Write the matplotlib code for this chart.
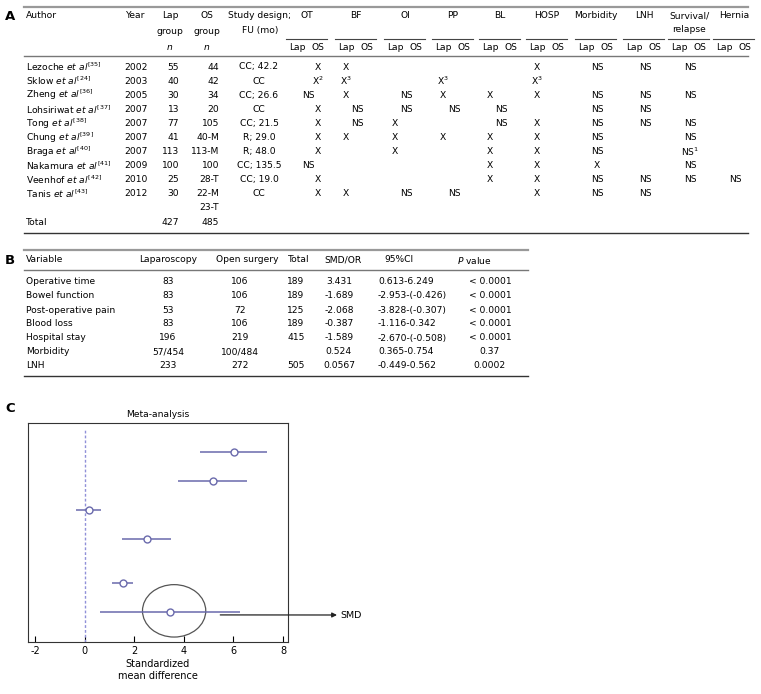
import matplotlib
matplotlib.use('Agg')
import matplotlib.pyplot as plt
from matplotlib.lines import Line2D
from matplotlib.patches import Ellipse

plt.rcParams['font.family'] = 'DejaVu Sans'
plt.rcParams['mathtext.fontset'] = 'dejavusans'

W, H = 761, 694
FS = 6.6

# ---- panel A data
authors = ['Lezoche', 'Sklow', 'Zheng', 'Lohsiriwat', 'Tong', 'Chung', 'Braga',
           'Nakamura', 'Veenhof', 'Tanis']
refs = ['35', '24', '36', '37', '38', '39', '40', '41', '42', '43']
years = ['2002', '2003', '2005', '2007', '2007', '2007', '2007', '2009', '2010', '2012']
lap_n = ['55', '40', '30', '13', '77', '41', '113', '100', '25', '30']
os_n = ['44', '42', '34', '20', '105', '40-M', '113-M', '100', '28-T', '22-M']
design = ['CC; 42.2', 'CC', 'CC; 26.6', 'CC', 'CC; 21.5', 'R; 29.0', 'R; 48.0',
          'CC; 135.5', 'CC; 19.0', 'CC']
outcomes = ['OT', 'BF', 'OI', 'PP', 'BL', 'HOSP', 'Morbidity', 'LNH', 'Survival/\nrelapse', 'Hernia']
# position:text  (L = under Lap, O = under OS, C = centred)
cells = [
    ['O:X', 'L:X', '', '', '', 'L:X', 'C:NS', 'C:NS', 'C:NS', ''],
    ['O:X$^2$', 'L:X$^3$', '', 'L:X$^3$', '', 'L:X$^3$', '', '', '', ''],
    ['C:NS', 'L:X', 'C:NS', 'L:X', 'L:X', 'L:X', 'C:NS', 'C:NS', 'C:NS', ''],
    ['O:X', 'C:NS', 'C:NS', 'C:NS', 'C:NS', '', 'C:NS', 'C:NS', '', ''],
    ['O:X', 'C:NS', 'L:X', '', 'C:NS', 'L:X', 'C:NS', 'C:NS', 'C:NS', ''],
    ['O:X', 'L:X', 'L:X', 'L:X', 'L:X', 'L:X', 'C:NS', '', 'C:NS', ''],
    ['O:X', '', 'L:X', '', 'L:X', 'L:X', 'C:NS', '', 'C:NS$^1$', ''],
    ['C:NS', '', '', '', 'L:X', 'L:X', 'C:X', '', 'C:NS', ''],
    ['O:X', '', '', '', 'L:X', 'L:X', 'C:NS', 'C:NS', 'C:NS', 'C:NS'],
    ['O:X', 'L:X', 'C:NS', 'C:NS', '', 'L:X', 'C:NS', 'C:NS', '', ''],
]
os_extra = '23-T'
total_lap, total_os = '427', '485'

# ---- panel B data
variables = ['Operative time', 'Bowel function', 'Post-operative pain', 'Blood loss',
             'Hospital stay', 'Morbidity', 'LNH']
lap_b = ['83', '83', '53', '83', '196', '57/454', '233']
open_b = ['106', '106', '72', '106', '219', '100/484', '272']
total_b = ['189', '189', '125', '189', '415', '', '505']
smd_b = ['3.431', '-1.689', '-2.068', '-0.387', '-1.589', '0.524', '0.0567']
ci_b = ['0.613-6.249', '-2.953-(-0.426)', '-3.828-(-0.307)', '-1.116-0.342',
        '-2.670-(-0.508)', '0.365-0.754', '-0.449-0.562']
p_b = ['< 0.0001', '< 0.0001', '< 0.0001', '< 0.0001', '< 0.0001', '0.37', '0.0002']

# ---- panel C data
smd = [6.01, 5.16, 0.18, 2.50, 1.53, 3.431]
ci_lo = [4.66, 3.76, -0.34, 1.51, 1.12, 0.613]
ci_hi = [7.36, 6.55, 0.68, 3.49, 1.96, 6.249]
ypos = [1, 2, 3, 4, 5.5, 6.5]
xticks = [-2, 0, 2, 4, 6, 8]

fig = plt.figure(figsize=(W / 100, H / 100), dpi=100)


def T(x, y, s, ha='left', **kw):
    kw.setdefault('fontsize', FS)
    fig.text(x / W, 1 - y / H, s, ha=ha, va='center', **kw)


def hline(x0, x1, y, color='#444444', lw=0.9):
    fig.add_artist(Line2D([x0 / W, x1 / W], [1 - y / H, 1 - y / H],
                          transform=fig.transFigure, color=color, lw=lw))


# ================= A
T(5, 16, 'A', fontsize=9.5, fontweight='bold')
hline(24, 748, 7, color='#999999', lw=1.6)
T(26, 16, 'Author')
T(136, 16, 'Year', ha='center')
T(170, 16, 'Lap', ha='center')
T(170, 31, 'group', ha='center')
T(170, 47, '$n$', ha='center')
T(207, 16, 'OS', ha='center')
T(207, 31, 'group', ha='center')
T(207, 47, '$n$', ha='center')
T(260, 16, 'Study design;', ha='center')
T(260, 31, 'FU (mo)', ha='center')

gx = [307, 356, 405, 453, 500, 547, 596, 644, 689, 734]
for g, name in zip(gx, outcomes):
    if '\n' in name:
        a, b = name.split('\n')
        T(g, 16, a, ha='center')
        T(g, 29, b, ha='center')
    else:
        T(g, 16, name, ha='center')
    hline(g - 21, g + 20, 39, lw=0.8)
    T(g - 10, 47, 'Lap', ha='center')
    T(g + 11, 47, 'OS', ha='center')
hline(24, 748, 56, color='#777777', lw=1.0)

y0, dy = 67, 14.1
for i in range(len(authors)):
    y = y0 + i * dy
    T(26, y, authors[i] + r' $\mathit{et\ al}^{[' + refs[i] + ']}$')
    T(136, y, years[i], ha='center')
    T(179, y, lap_n[i], ha='right')
    T(219, y, os_n[i], ha='right')
    T(259, y, design[i], ha='center')
    for g, c in zip(gx, cells[i]):
        if not c:
            continue
        pos, txt = c.split(':')
        x = {'L': g - 10, 'O': g + 11, 'C': g + 1}[pos]
        T(x, y, txt, ha='center')
y = y0 + len(authors) * dy
T(219, y, os_extra, ha='right')
y += dy
T(26, y, 'Total')
T(179, y, total_lap, ha='right')
T(219, y, total_os, ha='right')
hline(24, 748, y + 11, color='#333333', lw=1.0)

# ================= B
yb = 260
T(5, yb, 'B', fontsize=9.5, fontweight='bold')
hline(24, 528, yb - 10, color='#999999', lw=1.6)
cols = [26, 168, 240, 296, 339, 378, 490]
has = ['left', 'center', 'center', 'center', 'center', 'left', 'center']
heads = ['Variable', 'Laparoscopy', 'Open surgery', 'Total', 'SMD/OR', '95%CI', '$P$ value']
hx = [26, 168, 247, 299, 343, 399, 474]
for x, h in zip(hx, heads):
    T(x, yb, h, ha='left' if h == 'Variable' else 'center')
hline(24, 528, yb + 10, color='#777777', lw=1.0)
for i in range(len(variables)):
    y = yb + 22 + i * 14
    row = [variables[i], lap_b[i], open_b[i], total_b[i], smd_b[i], ci_b[i], p_b[i]]
    for x, s, a in zip(cols, row, has):
        T(x, y, s, ha=a)
hline(24, 528, yb + 22 + 6 * 14 + 10, color='#333333', lw=1.0)

# ================= C
T(5, 409, 'C', fontsize=9.5, fontweight='bold')
ax = fig.add_axes([28 / W, 1 - 642 / H, (288 - 28) / W, (642 - 423) / H])
ax.set_xlim(-2.28, 8.2)
ax.set_ylim(7.52, 0)
ax.axvline(0, color='#9090d8', lw=1.0, ls=(0, (2, 1.5)), ymin=0, ymax=0.97)
line_c = '#6a6aac'
ax.hlines(ypos, ci_lo, ci_hi, color=line_c, lw=1.1)
ax.plot(smd, ypos, 'o', ms=5, mfc='white', mec=line_c, mew=1.0, ls='none', zorder=3)
ax.add_patch(Ellipse((3.61, 6.45), 2.55, 1.8, fill=False, ec='#555555', lw=0.9))
ax.annotate('', xy=(337 / W, 1 - 615 / H), xycoords='figure fraction',
            xytext=(5.47, 6.59), textcoords='data',
            arrowprops=dict(arrowstyle='-|>', color='#222222', lw=0.9,
                            mutation_scale=7, shrinkA=0, shrinkB=0),
            annotation_clip=False)
T(340, 615, 'SMD', fontsize=6.8)
ax.set_yticks([])
ax.set_xticks(xticks)
ax.set_xticklabels([str(t) for t in xticks])
ax.tick_params(axis='x', direction='in', length=4, width=0.8, labelsize=7, pad=3)
for s in ax.spines.values():
    s.set_linewidth(0.8)
    s.set_color('#333333')
ax.set_title('Meta-analysis', fontsize=6.6, pad=4)
ax.set_xlabel('Standardized\nmean difference', fontsize=7, labelpad=2, linespacing=1.3)

fig.savefig('out.png', dpi=100)
